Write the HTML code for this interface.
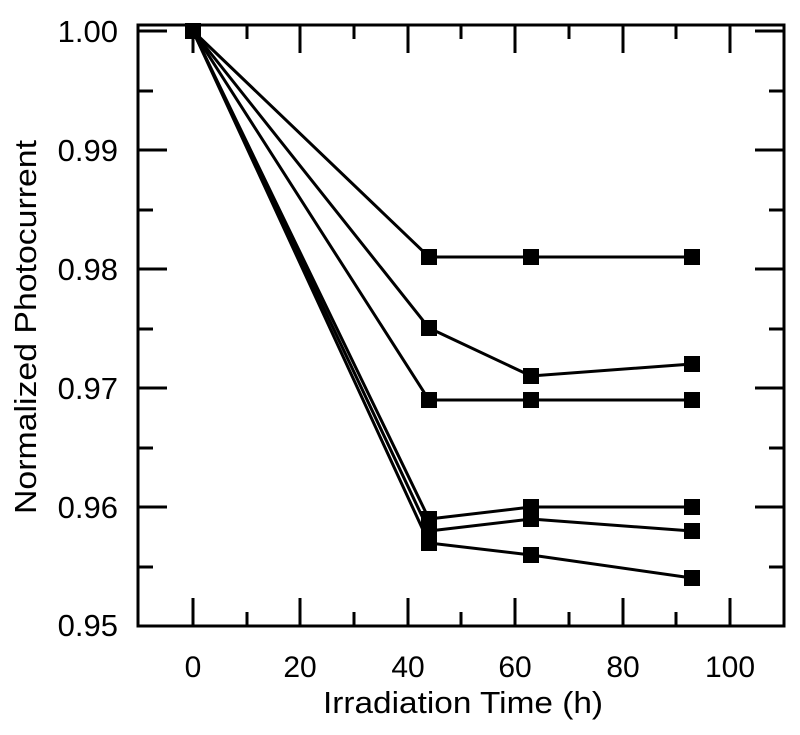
<!DOCTYPE html>
<html><head><style>body{margin:0;background:#fff}</style></head><body>
<svg width="800" height="730" xmlns="http://www.w3.org/2000/svg" font-family="Liberation Sans, Arial, sans-serif">
<rect x="138" y="25" width="646" height="601" fill="none" stroke="#000" stroke-width="3"/>
<g stroke="#000" stroke-width="3">
<line x1="193" y1="626" x2="193" y2="598"/><line x1="193" y1="25" x2="193" y2="53"/>
<line x1="247" y1="626" x2="247" y2="612"/><line x1="247" y1="25" x2="247" y2="39"/>
<line x1="300" y1="626" x2="300" y2="598"/><line x1="300" y1="25" x2="300" y2="53"/>
<line x1="354" y1="626" x2="354" y2="612"/><line x1="354" y1="25" x2="354" y2="39"/>
<line x1="408" y1="626" x2="408" y2="598"/><line x1="408" y1="25" x2="408" y2="53"/>
<line x1="461" y1="626" x2="461" y2="612"/><line x1="461" y1="25" x2="461" y2="39"/>
<line x1="515" y1="626" x2="515" y2="598"/><line x1="515" y1="25" x2="515" y2="53"/>
<line x1="569" y1="626" x2="569" y2="612"/><line x1="569" y1="25" x2="569" y2="39"/>
<line x1="623" y1="626" x2="623" y2="598"/><line x1="623" y1="25" x2="623" y2="53"/>
<line x1="676" y1="626" x2="676" y2="612"/><line x1="676" y1="25" x2="676" y2="39"/>
<line x1="730" y1="626" x2="730" y2="598"/><line x1="730" y1="25" x2="730" y2="53"/>
<line x1="138" y1="31" x2="167" y2="31"/><line x1="784" y1="31" x2="755" y2="31"/>
<line x1="138" y1="91" x2="153" y2="91"/><line x1="784" y1="91" x2="769" y2="91"/>
<line x1="138" y1="150" x2="167" y2="150"/><line x1="784" y1="150" x2="755" y2="150"/>
<line x1="138" y1="210" x2="153" y2="210"/><line x1="784" y1="210" x2="769" y2="210"/>
<line x1="138" y1="269" x2="167" y2="269"/><line x1="784" y1="269" x2="755" y2="269"/>
<line x1="138" y1="329" x2="153" y2="329"/><line x1="784" y1="329" x2="769" y2="329"/>
<line x1="138" y1="388" x2="167" y2="388"/><line x1="784" y1="388" x2="755" y2="388"/>
<line x1="138" y1="448" x2="153" y2="448"/><line x1="784" y1="448" x2="769" y2="448"/>
<line x1="138" y1="507" x2="167" y2="507"/><line x1="784" y1="507" x2="755" y2="507"/>
<line x1="138" y1="567" x2="153" y2="567"/><line x1="784" y1="567" x2="769" y2="567"/>
</g>
<g font-size="31" text-anchor="end">
<text x="118" y="42">1.00</text><text x="118" y="161">0.99</text><text x="118" y="280">0.98</text>
<text x="118" y="399">0.97</text><text x="118" y="518">0.96</text><text x="118" y="636">0.95</text>
</g>
<g font-size="30" text-anchor="middle">
<text x="193" y="677">0</text><text x="300" y="677">20</text><text x="408" y="677">40</text>
<text x="515" y="677">60</text><text x="623" y="677">80</text><text x="730" y="677">100</text>
</g>
<text x="323" y="713" font-size="31" textLength="280" lengthAdjust="spacingAndGlyphs">Irradiation Time (h)</text>
<text transform="translate(36,514) rotate(-90)" font-size="31" textLength="374" lengthAdjust="spacingAndGlyphs">Normalized Photocurrent</text>
<g fill="none" stroke="#000" stroke-width="3">
<polyline points="193,31 429,257 531,257 692,257"/>
<polyline points="193,31 429,328 531,376 692,364"/>
<polyline points="193,31 429,400 531,400 692,400"/>
<polyline points="193,31 429,519 531,507 692,507"/>
<polyline points="193,31 429,531 531,519 692,531"/>
<polyline points="193,31 429,543 531,555 692,578"/>
</g>
<g fill="#000">
<rect x="185" y="23" width="16" height="16"/>
<rect x="421" y="249" width="16" height="16"/><rect x="523" y="249" width="16" height="16"/><rect x="684" y="249" width="16" height="16"/>
<rect x="421" y="320" width="16" height="16"/><rect x="523" y="368" width="16" height="16"/><rect x="684" y="356" width="16" height="16"/>
<rect x="421" y="392" width="16" height="16"/><rect x="523" y="392" width="16" height="16"/><rect x="684" y="392" width="16" height="16"/>
<rect x="421" y="511" width="16" height="16"/><rect x="523" y="499" width="16" height="16"/><rect x="684" y="499" width="16" height="16"/>
<rect x="421" y="523" width="16" height="16"/><rect x="523" y="511" width="16" height="16"/><rect x="684" y="523" width="16" height="16"/>
<rect x="421" y="535" width="16" height="16"/><rect x="523" y="547" width="16" height="16"/><rect x="684" y="570" width="16" height="16"/>
</g>
</svg>
</body></html>
